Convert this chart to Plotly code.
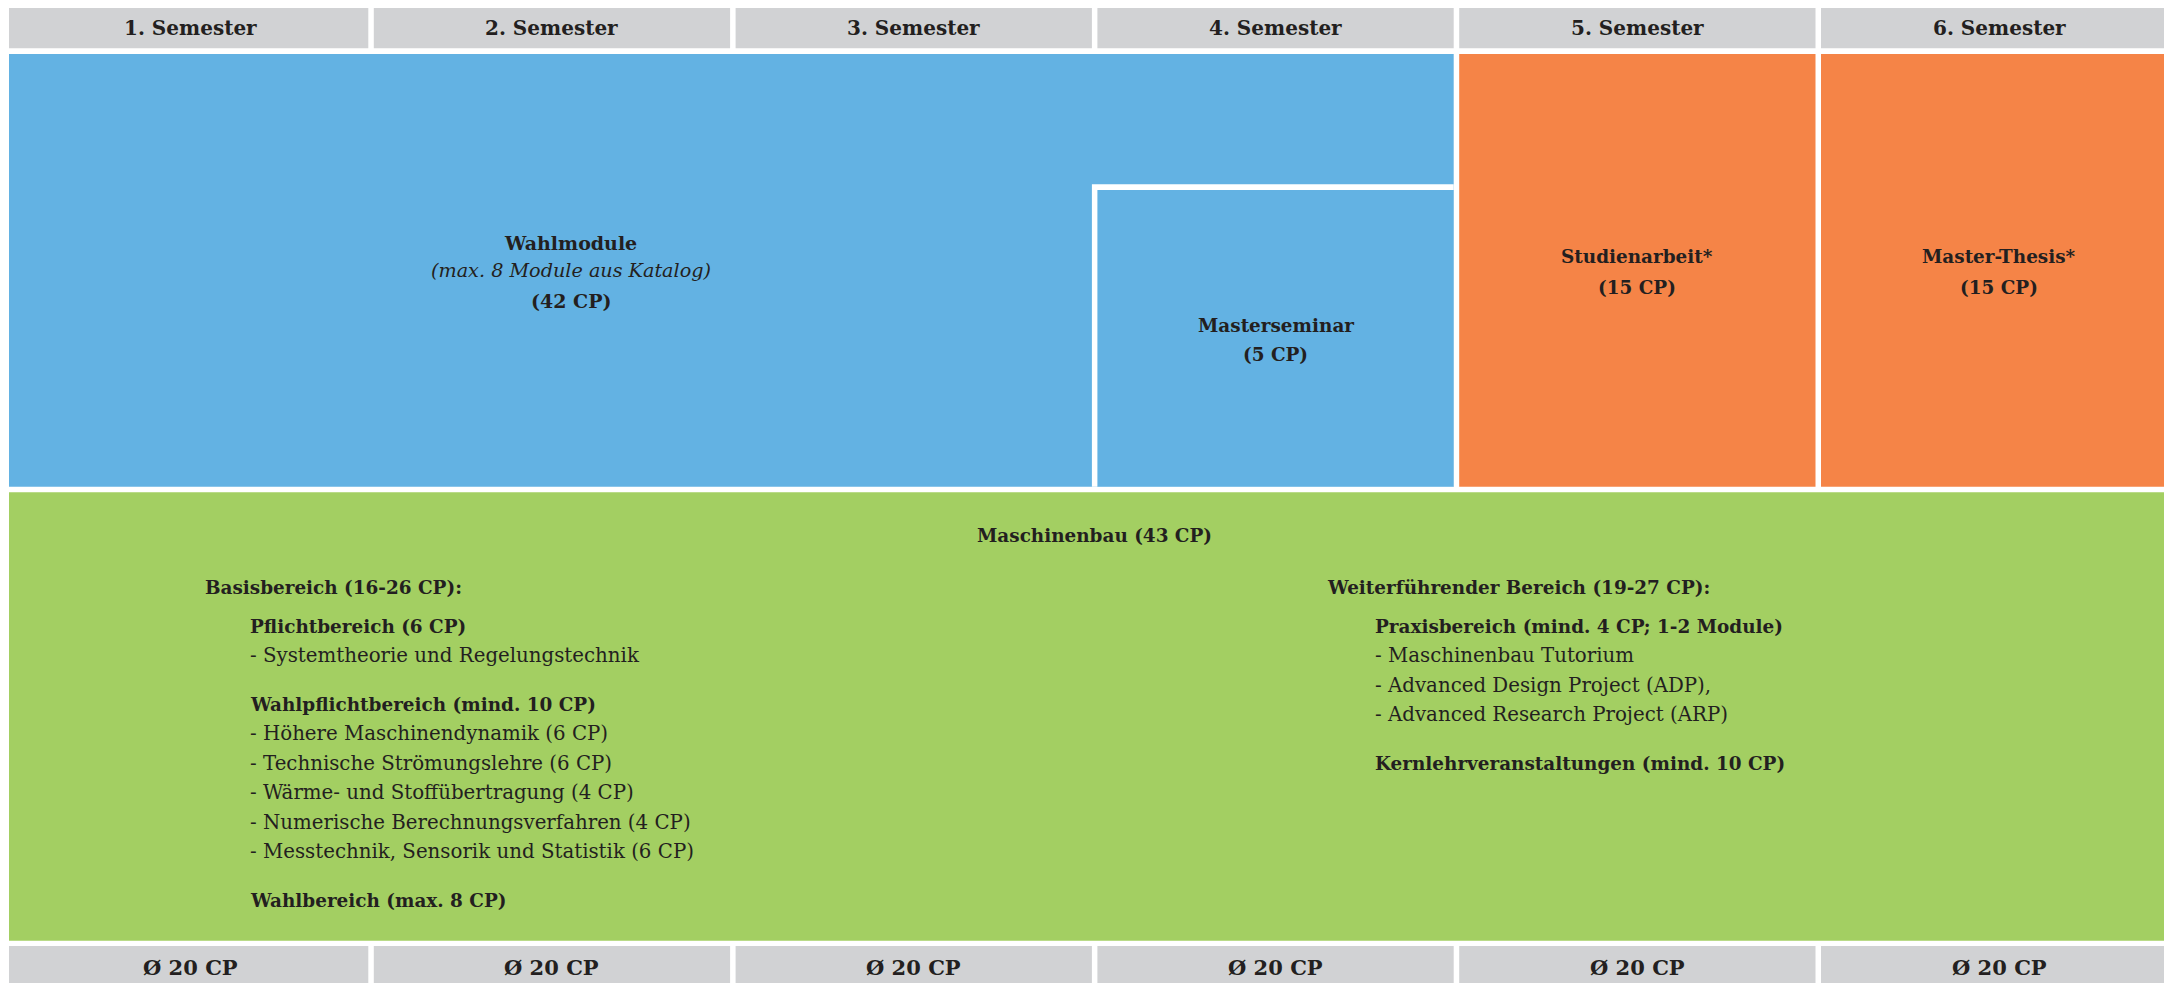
import plotly.graph_objects as go

# ---------------- data ----------------
semesters = ["1. Semester", "2. Semester", "3. Semester", "4. Semester", "5. Semester", "6. Semester"]
semester_cp = [20, 20, 20, 20, 20, 20]

module_names = ["Wahlmodule", "Masterseminar", "Studienarbeit*", "Master-Thesis*"]
module_notes = ["max. 8 Module aus Katalog", "", "", ""]
module_cp = [42, 5, 15, 15]
module_first = [1, 4, 5, 6]
module_last = [4, 4, 5, 6]

core_name = "Maschinenbau"
core_cp = 43

basis_header = "Basisbereich (16-26 CP):"
basis_titles = ["Pflichtbereich (6 CP)", "Wahlpflichtbereich (mind. 10 CP)", "Wahlbereich (max. 8 CP)"]
basis_items = [
    ["Systemtheorie und Regelungstechnik"],
    ["Höhere Maschinendynamik (6 CP)", "Technische Strömungslehre (6 CP)",
     "Wärme- und Stoffübertragung (4 CP)", "Numerische Berechnungsverfahren (4 CP)",
     "Messtechnik, Sensorik und Statistik (6 CP)"],
    [],
]
weiter_header = "Weiterführender Bereich (19-27 CP):"
weiter_titles = ["Praxisbereich (mind. 4 CP; 1-2 Module)", "Kernlehrveranstaltungen (mind. 10 CP)"]
weiter_items = [
    ["Maschinenbau Tutorium", "Advanced Design Project (ADP),", "Advanced Research Project (ARP)"],
    [],
]

# ---------------- style ----------------
PAGE_W, PAGE_H = 2172, 983
OFF = 8  # page body margin
W, H = PAGE_W - OFF, PAGE_H - OFF
PITCH = 361.8
X0PIX = 12.0
GAP = 5.5 / PITCH
LEFT = -3.0 / PITCH
FONT = "DejaVu Serif"
TXT = "#231f20"
GRAY = "#d1d2d4"
BLUE = "#63b2e3"
ORANGE = "#f58447"
GREEN = "#a3cf62"
FS = 19.8     # regular
FSB = 18.4    # bold text in blocks

# vertical layout (page pixel rows)
HEAD = (5.7, 48.3)
TOP = (54.0, 486.7)
SEM_TOP = 184.3
BORDER = 5.7
MID = (492.3, 940.7)
FOOT = (946.0, 990.0)

fig = go.Figure()
shapes = []
ann = []


def rect(c0, c1, y0, y1, color):
    x0 = (c0 - 1) if c0 > 1 else LEFT
    x1 = c1 - GAP
    shapes.append(dict(type="rect", xref="x", yref="y", x0=x0, x1=x1, y0=y0, y1=y1,
                       fillcolor=color, line=dict(width=0), layer="below"))


def text(x, y, s, size=FSB, anchor="center", bold=False, italic=False):
    if bold:
        s = "<b>" + s + "</b>"
    if italic:
        s = "<i>" + s + "</i>"
    ann.append(dict(x=x, y=y, xref="x", yref="y", text=s, showarrow=False,
                    xanchor=anchor, yanchor="middle",
                    font=dict(family=FONT, size=size, color=TXT)))


# header and footer rows
for i, (lab, cp) in enumerate(zip(semesters, semester_cp)):
    rect(i + 1, i + 1, HEAD[0], HEAD[1], GRAY)
    rect(i + 1, i + 1, FOOT[0], FOOT[1], GRAY)
    text(i + 0.5 - GAP / 2, sum(HEAD) / 2 + 1, lab, size=20, bold=True)
    text(i + 0.5 - GAP / 2, 967.5, "Ø %d CP" % cp, size=21, bold=True)

# module blocks
for name, note, cp, a, b in zip(module_names, module_notes, module_cp, module_first, module_last):
    if note:  # Wahlmodule: large blue block
        rect(a, b, TOP[0], TOP[1], BLUE)
        cx = 1.545
        text(cx, 242.5, name, size=19, bold=True)
        text(cx, 270.5, note.join("()"), size=19.2, italic=True)
        text(cx, 300.5, "(%d CP)" % cp, size=19, bold=True)
    elif a == b == 4:  # Masterseminar nested inside the blue block
        shapes.append(dict(type="rect", xref="x", yref="y", x0=a - 1 - GAP, x1=a - GAP,
                           y0=SEM_TOP, y1=TOP[1], fillcolor="white", line=dict(width=0), layer="below"))
        rect(a, b, SEM_TOP + BORDER, TOP[1], BLUE)
        cx = a - 0.5 - GAP / 2
        text(cx, 325, name, bold=True)
        text(cx, 354, "(%d CP)" % cp, bold=True)
    else:
        rect(a, b, TOP[0], TOP[1], ORANGE)
        cx = (a + b) / 2 - 0.5 - GAP / 2
        text(cx, 256, name, bold=True)
        text(cx, 287, "(%d CP)" % cp, bold=True)

# Maschinenbau block
rect(1, 6, MID[0], MID[1], GREEN)
text(3.0 - GAP / 2, 535, "%s (%d CP)" % (core_name, core_cp), bold=True)

LINE = 29.5
GROUP = 48.5


def column(xh, xi, header, titles, items):
    y = 587.0
    text(xh, y, header, anchor="left", bold=True)
    y += 39.0
    for k, (t, its) in enumerate(zip(titles, items)):
        if k > 0:
            y += GROUP
        text(xi, y, t, anchor="left", bold=True)
        for it in its:
            y += LINE
            text(xi, y, "- " + it, size=FS, anchor="left")


column((202.5 - X0PIX) / PITCH, (248 - X0PIX) / PITCH, basis_header, basis_titles, basis_items)
column((1325 - X0PIX) / PITCH, (1372.5 - X0PIX) / PITCH, weiter_header, weiter_titles, weiter_items)

fig.update_layout(
    width=W, height=H, margin=dict(l=0, r=0, t=0, b=0),
    paper_bgcolor="white", plot_bgcolor="white",
    shapes=shapes, annotations=ann, showlegend=False,
    xaxis=dict(range=[(OFF - X0PIX) / PITCH, (PAGE_W - X0PIX) / PITCH], visible=False, fixedrange=True),
    yaxis=dict(range=[PAGE_H, OFF], visible=False, fixedrange=True),
)
fig.write_html("out.html", config={"displayModeBar": False})
